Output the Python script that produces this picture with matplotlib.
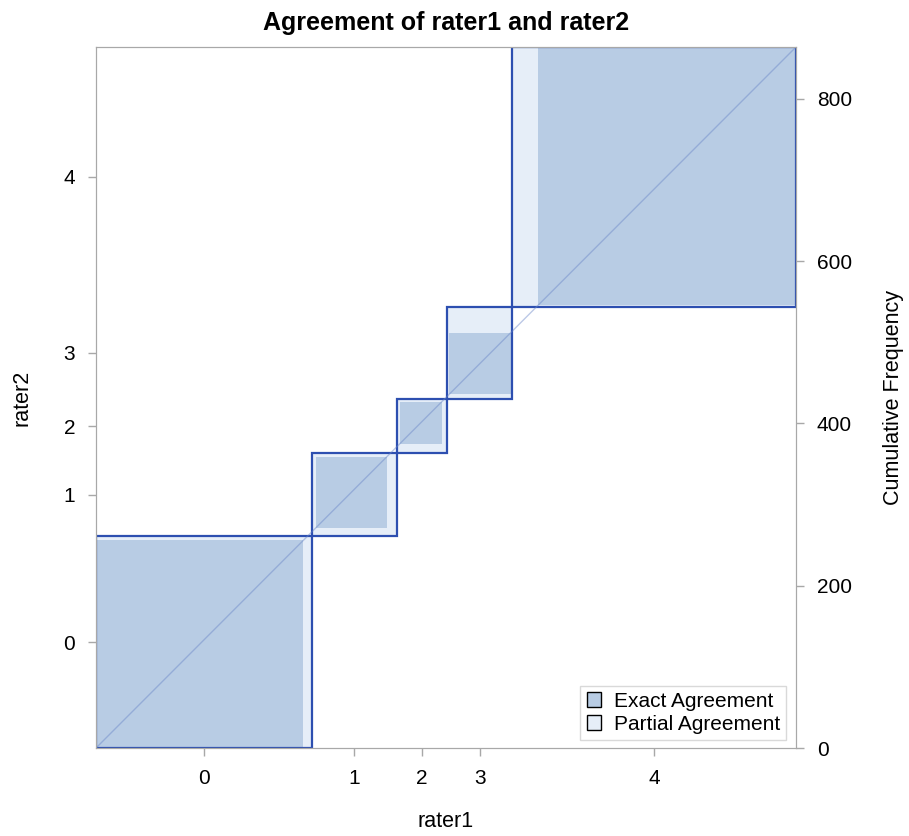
import matplotlib.pyplot as plt
from matplotlib.patches import Rectangle
import numpy as np

plt.rcParams['font.family'] = ['Liberation Sans', 'DejaVu Sans']

# counts[a][b]: rater1 = a, rater2 = b
categories = ['0', '1', '2', '3', '4']
counts = np.array([
    [256, 10, 0, 0, 0],
    [5, 88, 12, 0, 0],
    [0, 4, 52, 6, 0],
    [0, 0, 3, 76, 2],
    [0, 0, 0, 32, 318],
])

exact_color = '#b8cce4'
partial_color = '#e6eef8'
box_color = '#2d4fb0'
axis_gray = '#a8a8a8'

n = counts.sum()
col_tot = counts.sum(axis=1)  # rater1 totals (x)
row_tot = counts.sum(axis=0)  # rater2 totals (y)
X = np.concatenate([[0], np.cumsum(col_tot)])
Y = np.concatenate([[0], np.cumsum(row_tot)])
k = len(categories)

fig = plt.figure(figsize=(9.09, 8.36), dpi=100)
ax = fig.add_axes([96 / 909, 88 / 836, 700 / 909, 701 / 836])

for i in range(k):
    # partial agreement: cells with |i-j| <= 1
    lo = max(i - 1, 0)
    hi = min(i + 1, k - 1)
    px0 = X[i] + counts[i, :lo].sum()
    px1 = X[i] + counts[i, :hi + 1].sum()
    py0 = Y[i] + counts[:lo, i].sum()
    py1 = Y[i] + counts[:hi + 1, i].sum()
    ax.add_patch(Rectangle((px0, py0), px1 - px0, py1 - py0,
                           facecolor=partial_color, edgecolor='none', zorder=1))
    # exact agreement
    ex = X[i] + counts[i, :i].sum()
    ey = Y[i] + counts[:i, i].sum()
    ax.add_patch(Rectangle((ex, ey), counts[i, i], counts[i, i],
                           facecolor=exact_color, edgecolor='none', zorder=2))

for i in range(k):
    ax.add_patch(Rectangle((X[i], Y[i]), col_tot[i], row_tot[i],
                           facecolor='none', edgecolor=box_color, lw=1.6, zorder=3))

ax.plot([0, n], [0, n], color='#6a86c8', lw=1, alpha=0.45, zorder=4)

ax.set_xlim(0, n)
ax.set_ylim(0, n)
ax.set_xticks((X[:-1] + X[1:]) / 2)
ax.set_xticklabels(categories)
ax.set_yticks((Y[:-1] + Y[1:]) / 2)
ax.set_yticklabels(categories)
ax.set_xlabel('rater1', fontsize=15.5, labelpad=17)
ax.set_ylabel('rater2', fontsize=15.5, labelpad=22)
ax.set_title('Agreement of rater1 and rater2', fontsize=18, fontweight='bold', pad=12)

ax2 = ax.twinx()
ax2.set_ylim(0, n)
ax2.set_yticks([0, 200, 400, 600, 800])
ax2.set_ylabel('Cumulative Frequency', fontsize=15.5, labelpad=22)

for a in (ax, ax2):
    for s in a.spines.values():
        s.set_color(axis_gray)
        s.set_zorder(5)
    a.tick_params(colors=axis_gray, labelcolor='black', labelsize=15, length=6, width=1, pad=9)

legend_handles = [
    Rectangle((0, 0), 1, 1, facecolor=exact_color, edgecolor='black', lw=1),
    Rectangle((0, 0), 1, 1, facecolor=partial_color, edgecolor='black', lw=1),
]
leg = ax2.legend(legend_handles, ['Exact Agreement', 'Partial Agreement'],
                 loc='lower right', bbox_to_anchor=(0.986, 0.011), fontsize=15,
                 frameon=True, fancybox=False, handlelength=0.7, handleheight=0.7,
                 handletextpad=0.6, borderpad=0.3, labelspacing=0.2, borderaxespad=0)
leg.get_frame().set_edgecolor('#d0d0d0')
leg.get_frame().set_linewidth(1)

fig.savefig('out.png', dpi=100)
